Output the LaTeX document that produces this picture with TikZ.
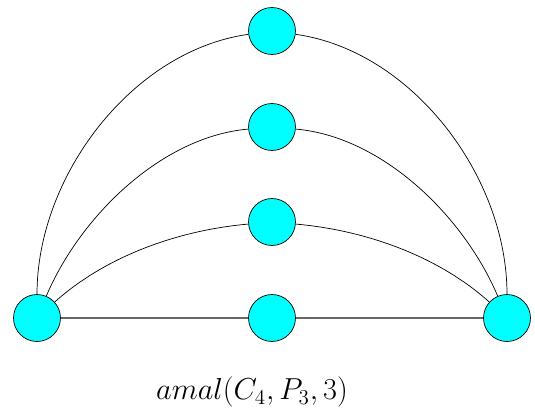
\documentclass[tikz,border=0pt]{standalone}
\usepackage{amsmath, amssymb}
\usepackage{tikz}

\definecolor{vcyan}{rgb}{0,1,1}

\begin{document}
\begin{tikzpicture}[x=0.02cm, y=-0.02cm,
    vertex/.style={circle, draw, thin, fill=vcyan, minimum size=0.94cm, inner sep=0pt}]
  \useasboundingbox (0,0) rectangle (535,412);
  \node[vertex] (u) at (37,318) {};
  \node[vertex] (w) at (507,318) {};
  \foreach \n/\y in {1/318, 2/222, 3/127, 4/31}
    \node[vertex] (v\n) at (272,\y) {};
  \draw[black!60, line width=1pt] (u) -- (v1) -- (w);
  \draw[thin, looseness=0.85] (u) to[out=42, in=185] (v2) to[out=-5, in=138] (w);
  \draw[thin, looseness=0.85] (u) to[out=67, in=185] (v3) to[out=-5, in=113] (w);
  \draw[thin, looseness=0.9] (u) to[out=90, in=188] (v4) to[out=-8, in=90] (w);
  \node[font=\fontsize{16.5}{20}\selectfont] (cap) at (252,392) {$amal(C_4,P_3,3)$};
\end{tikzpicture}
\end{document}
